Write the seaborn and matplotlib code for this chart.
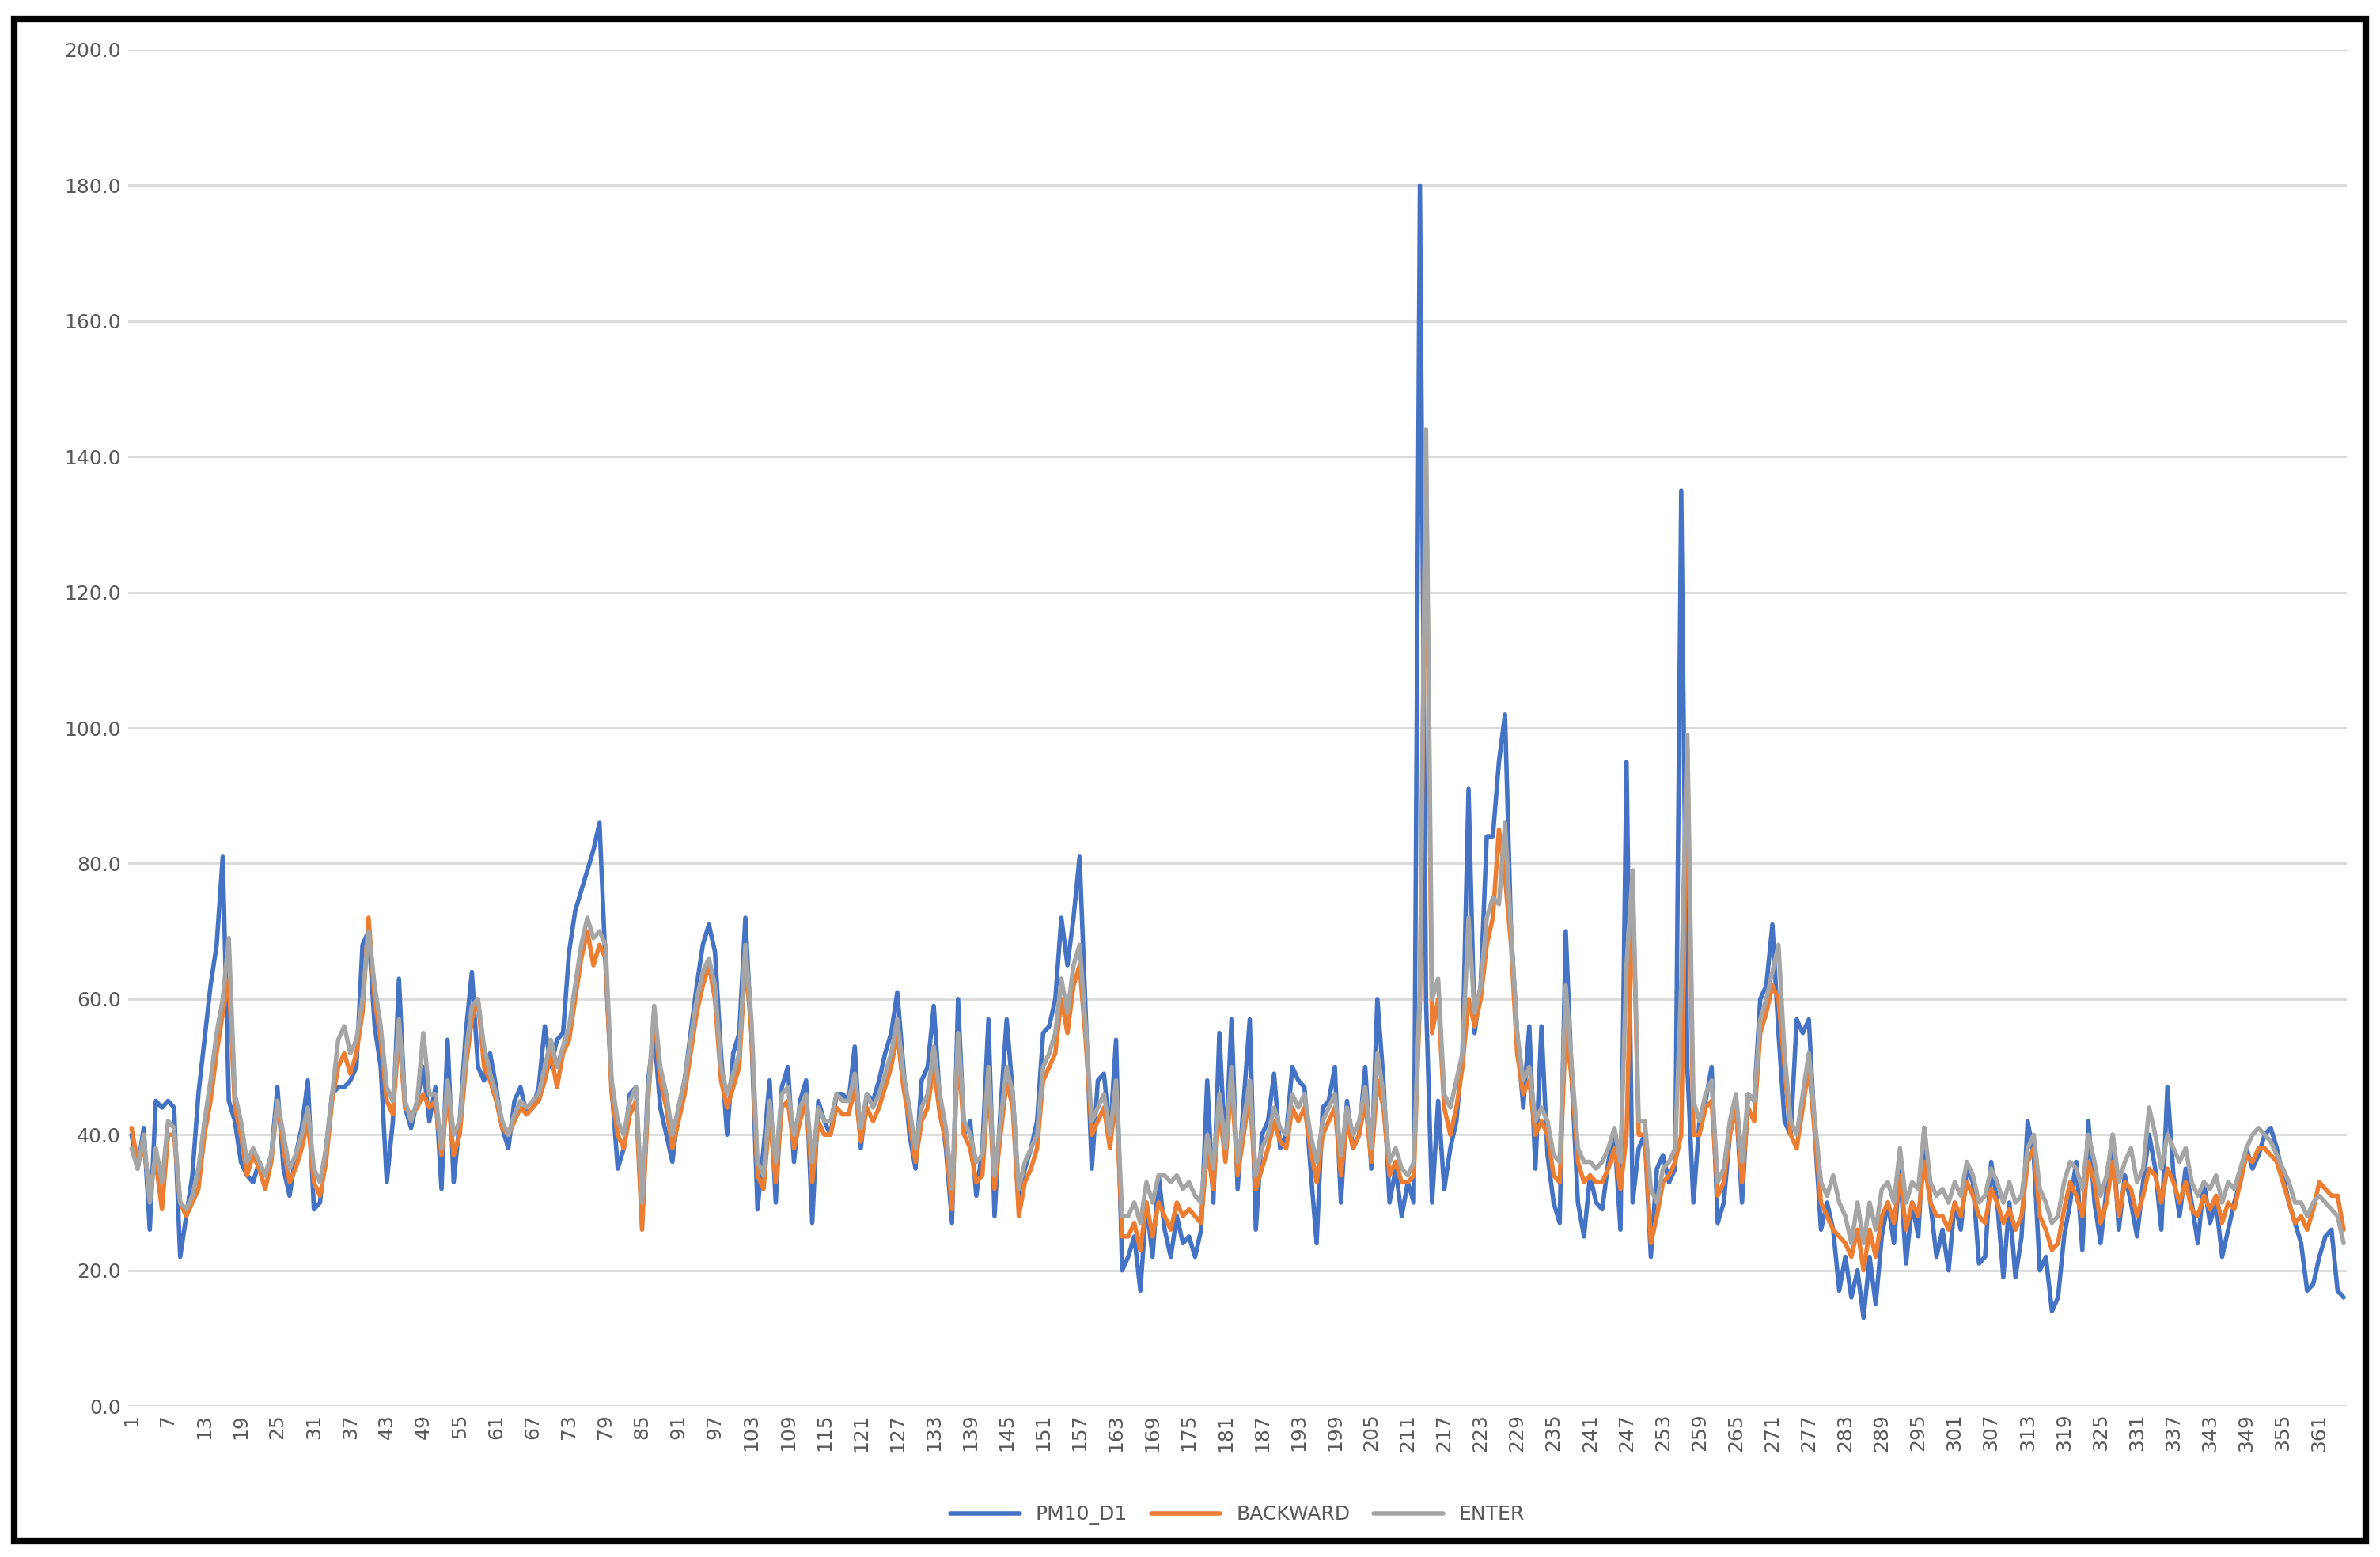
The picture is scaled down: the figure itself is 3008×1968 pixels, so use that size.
import numpy as np
import pandas as pd
import matplotlib.pyplot as plt
import seaborn as sns

pm10_d1 = [
    40, 35, 41, 26, 45, 44, 45, 44, 22, 28,
    34, 46, 54, 62, 68, 81, 45, 42, 36, 34,
    33, 36, 34, 37, 47, 35, 31, 37, 41, 48,
    29, 30, 38, 46, 47, 47, 48, 50, 68, 70,
    56, 50, 33, 42, 63, 44, 41, 45, 50, 42,
    47, 32, 54, 33, 42, 55, 64, 50, 48, 52,
    47, 41, 38, 45, 47, 43, 44, 47, 56, 50,
    54, 55, 67, 73, 76, 79, 82, 86, 65, 47,
    35, 38, 46, 47, 27, 48, 55, 44, 40, 36,
    44, 48, 55, 62, 68, 71, 67, 52, 40, 52,
    55, 72, 55, 29, 38, 48, 30, 47, 50, 36,
    45, 48, 27, 45, 42, 40, 46, 46, 45, 53,
    38, 46, 45, 48, 52, 55, 61, 50, 40, 35,
    48, 50, 59, 45, 38, 27, 60, 40, 42, 31,
    38, 57, 28, 44, 57, 46, 31, 35, 38, 42,
    55, 56, 60, 72, 65, 72, 81, 58, 35, 48,
    49, 40, 54, 20, 22, 25, 17, 30, 22, 34,
    26, 22, 28, 24, 25, 22, 26, 48, 30, 55,
    37, 57, 32, 45, 57, 26, 40, 42, 49, 38,
    40, 50, 48, 47, 35, 24, 44, 45, 50, 30,
    45, 38, 40, 50, 35, 60, 48, 30, 35, 28,
    33, 30, 180, 60, 30, 45, 32, 38, 42, 52,
    91, 55, 62, 84, 84, 95, 102, 70, 55, 44,
    56, 35, 56, 37, 30, 27, 70, 48, 30, 25,
    34, 30, 29, 36, 40, 26, 95, 30, 38, 40,
    22, 35, 37, 33, 35, 135, 50, 30, 42, 45,
    50, 27, 30, 40, 45, 30, 46, 45, 60, 62,
    71, 55, 42, 40, 57, 55, 57, 40, 26, 30,
    26, 17, 22, 16, 20, 13, 22, 15, 25, 30,
    24, 35, 21, 30, 25, 41, 30, 22, 26, 20,
    30, 26, 35, 33, 21, 22, 36, 30, 19, 30,
    19, 25, 42, 37, 20, 22, 14, 16, 25, 30,
    36, 23, 42, 30, 24, 32, 40, 26, 34, 30,
    25, 33, 40, 35, 26, 47, 34, 28, 35, 30,
    24, 33, 27, 30, 22, 26, 30, 33, 38, 35,
    37, 40, 41, 38, 34, 30, 27, 24, 17, 18,
    22, 25, 26, 17, 16,
]

backward = [
    41, 36, 38, 32, 36, 29, 40, 40, 30, 28,
    30, 32, 40, 45, 52, 58, 63, 44, 40, 34,
    37, 35, 32, 36, 45, 38, 33, 35, 38, 42,
    33, 31, 36, 45, 50, 52, 49, 52, 58, 72,
    60, 54, 45, 43, 55, 44, 43, 44, 46, 44,
    45, 37, 46, 37, 40, 50, 57, 60, 50, 48,
    45, 41, 40, 42, 44, 43, 44, 45, 48, 52,
    47, 52, 54, 60, 66, 70, 65, 68, 66, 46,
    40, 38, 43, 45, 26, 45, 58, 48, 44, 38,
    42, 46, 52, 58, 62, 65, 60, 48, 44, 47,
    50, 66, 55, 34, 32, 43, 33, 44, 45, 38,
    42, 45, 33, 42, 40, 40, 44, 43, 43, 47,
    39, 44, 42, 44, 47, 50, 55, 47, 42, 36,
    42, 44, 50, 43, 39, 29, 53, 40, 38, 33,
    34, 48, 32, 40, 48, 44, 28, 33, 35, 38,
    48, 50, 52, 60, 55, 62, 65, 54, 40, 42,
    44, 38, 46, 25, 25, 27, 23, 30, 25, 30,
    28, 26, 30, 28, 29, 28, 27, 38, 32, 44,
    36, 48, 34, 40, 46, 32, 35, 38, 42, 39,
    38, 44, 42, 44, 38, 33, 40, 42, 44, 34,
    42, 38, 40, 45, 36, 48, 44, 34, 36, 33,
    33, 34, 60, 140, 55, 60, 44, 40, 44, 50,
    60, 56, 60, 68, 72, 85, 78, 68, 52, 46,
    48, 40, 42, 40, 34, 33, 56, 48, 36, 33,
    34, 33, 33, 35, 38, 32, 40, 77, 40, 40,
    24, 28, 33, 34, 36, 40, 97, 40, 40, 44,
    45, 31, 33, 40, 44, 33, 44, 42, 55, 58,
    62, 60, 50, 40, 38, 44, 50, 40, 30, 28,
    26, 25, 24, 22, 26, 20, 26, 22, 28, 30,
    27, 34, 26, 30, 28, 36, 30, 28, 28, 26,
    30, 28, 33, 31, 28, 27, 32, 30, 27, 29,
    26, 28, 36, 38, 28, 26, 23, 24, 29, 33,
    31, 28, 36, 33, 27, 30, 36, 28, 33, 32,
    28, 31, 35, 34, 30, 35, 33, 30, 33, 29,
    28, 31, 29, 31, 27, 30, 29, 33, 37, 36,
    38, 38, 37, 36, 33, 30, 27, 28, 26, 29,
    33, 32, 31, 31, 26,
]

enter = [
    38, 35, 40, 30, 38, 33, 42, 41, 30, 29,
    31, 35, 42, 48, 55, 60, 69, 46, 42, 36,
    38, 36, 34, 37, 45, 40, 35, 37, 40, 44,
    35, 33, 38, 46, 54, 56, 52, 54, 60, 70,
    62, 56, 47, 45, 57, 45, 42, 45, 55, 46,
    46, 38, 48, 40, 42, 52, 59, 60, 53, 49,
    46, 42, 40, 43, 45, 44, 45, 46, 50, 54,
    50, 53, 56, 62, 68, 72, 69, 70, 68, 48,
    42, 40, 45, 47, 30, 46, 59, 50, 46, 40,
    44, 48, 54, 60, 64, 66, 62, 50, 46, 49,
    52, 68, 57, 36, 34, 45, 36, 46, 47, 40,
    44, 46, 36, 44, 42, 42, 46, 45, 45, 49,
    41, 46, 44, 46, 49, 52, 57, 49, 44, 38,
    44, 46, 53, 46, 41, 32, 55, 42, 40, 36,
    37, 50, 34, 42, 50, 46, 32, 36, 38, 40,
    50, 52, 55, 63, 58, 65, 68, 56, 42, 44,
    46, 40, 48, 28, 28, 30, 27, 33, 30, 34,
    34, 33, 34, 32, 33, 31, 30, 40, 35, 46,
    38, 50, 36, 42, 48, 34, 38, 40, 44, 41,
    40, 46, 44, 46, 40, 36, 42, 44, 46, 37,
    44, 40, 42, 47, 38, 52, 46, 36, 38, 35,
    34, 36, 62, 144, 60, 63, 46, 44, 48, 52,
    72, 58, 62, 72, 75, 74, 86, 70, 55, 48,
    50, 42, 44, 42, 37, 36, 62, 50, 38, 36,
    36, 35, 36, 38, 41, 36, 65, 79, 42, 42,
    32, 30, 35, 36, 38, 62, 99, 45, 42, 46,
    48, 33, 35, 42, 46, 36, 46, 45, 57, 60,
    64, 68, 52, 42, 40, 46, 52, 42, 33, 31,
    34, 30, 28, 24, 30, 24, 30, 26, 32, 33,
    30, 38, 30, 33, 32, 41, 33, 31, 32, 30,
    33, 31, 36, 34, 30, 31, 35, 33, 30, 33,
    30, 31, 38, 40, 32, 30, 27, 28, 33, 36,
    35, 32, 40, 36, 31, 34, 40, 33, 36, 38,
    33, 35, 44, 40, 35, 40, 38, 36, 38, 33,
    31, 33, 32, 34, 30, 33, 32, 35, 38, 40,
    41, 40, 39, 37, 35, 33, 30, 30, 28, 30,
    31, 30, 29, 28, 24,
]

days = np.arange(1, len(pm10_d1) + 1)
df = pd.DataFrame({"day": days, "PM10_D1": pm10_d1,
                   "BACKWARD": backward, "ENTER": enter})
long_df = df.melt(id_vars="day", var_name="series", value_name="value")

palette = {"PM10_D1": "#4472C4", "BACKWARD": "#ED7D31", "ENTER": "#A5A5A5"}

sns.set_style("white")
plt.rcParams["font.family"] = ["DejaVu Sans"]

fig = plt.figure(figsize=(15.04, 9.84), dpi=200)
ax = fig.add_axes([0.054, 0.097, 0.932, 0.871])

sns.lineplot(data=long_df, x="day", y="value", hue="series",
             hue_order=list(palette.keys()), palette=palette,
             linewidth=2.0, ax=ax)

ax.set_xlim(0.5, len(days) + 0.5)
ax.set_ylim(0, 200)
ax.set_yticks(np.arange(0, 201, 20))
ax.set_yticklabels([f"{v:.1f}" for v in np.arange(0, 201, 20)])
ax.set_xticks(days[::6])
ax.set_xticklabels([str(d) for d in days[::6]], rotation=90)
ax.tick_params(axis="both", labelsize=9, colors="#595959", length=0)
ax.grid(axis="y", color="#D9D9D9", linewidth=1)
ax.set_axisbelow(True)
for s in ax.spines.values():
    s.set_visible(False)
ax.set_xlabel("")
ax.set_ylabel("")

ax.legend(loc="upper center", bbox_to_anchor=(0.5, -0.06), ncol=3,
          frameon=False, fontsize=9, handlelength=3.5, columnspacing=1.2,
          labelcolor="#595959")

fig.patches.append(plt.Rectangle((0.006, 0.01), 0.988, 0.978,
                                 transform=fig.transFigure, fill=False,
                                 edgecolor="black", linewidth=3))

fig.savefig("out.png", dpi=200)
